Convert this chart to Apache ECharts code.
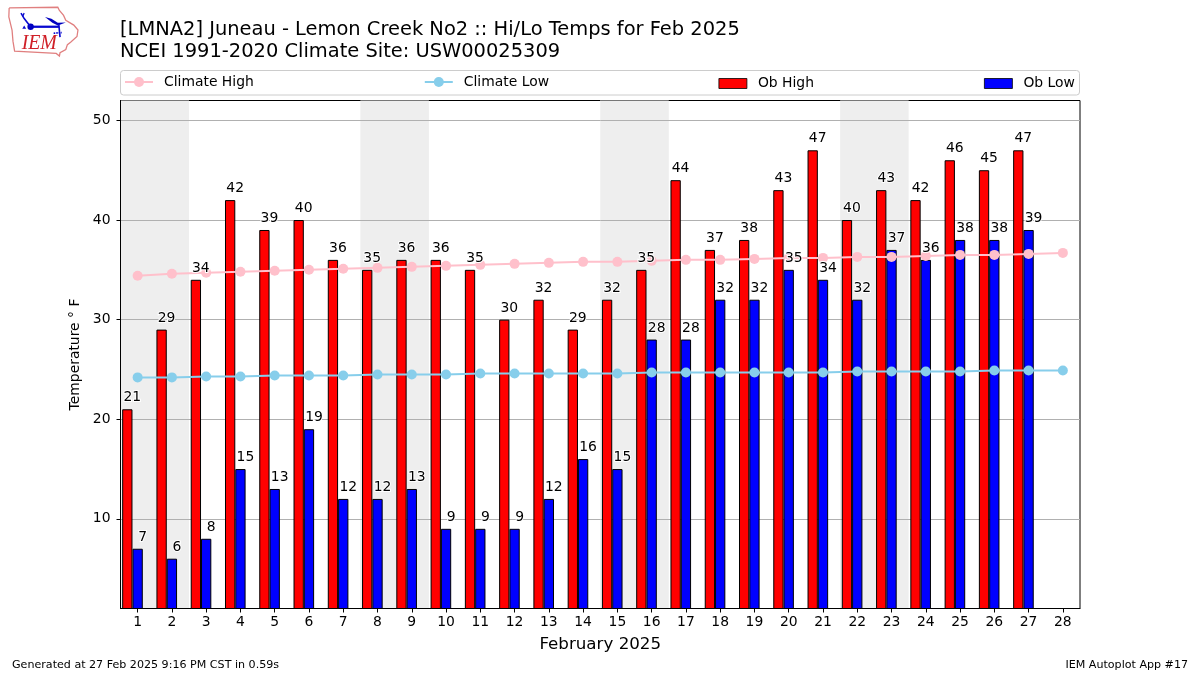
<!DOCTYPE html>
<html><head><meta charset="utf-8">
<style>html,body{margin:0;padding:0;background:#fff}#c{width:1200px;height:675px}</style>
<script src="https://cdn.jsdelivr.net/npm/echarts@6/dist/echarts.min.js"></script>
</head><body><div id="c"></div>
<script>
const days = [1,2,3,4,5,6,7,8,9,10,11,12,13,14,15,16,17,18,19,20,21,22,23,24,25,26,27,28];
const obHigh = [21,29,34,42,39,40,36,35,36,36,35,30,32,29,32,35,44,37,38,43,47,40,43,42,46,45,47,null];
const obLow = [7,6,8,15,13,19,12,12,13,9,9,9,12,16,15,28,28,32,32,35,34,32,37,36,38,38,39,null];
const climateHigh = [34.4,34.6,34.7,34.8,34.9,35.0,35.1,35.2,35.3,35.4,35.5,35.6,35.7,35.8,35.8,35.9,36.0,36.0,36.1,36.2,36.2,36.3,36.3,36.4,36.5,36.5,36.6,36.7];
const climateLow = [24.2,24.2,24.3,24.3,24.4,24.4,24.4,24.5,24.5,24.5,24.6,24.6,24.6,24.6,24.6,24.7,24.7,24.7,24.7,24.7,24.7,24.8,24.8,24.8,24.8,24.9,24.9,24.9];
const weekends = [[0.5,2.5],[7.5,9.5],[14.5,16.5],[21.5,23.5]];
const yTicks = [10,20,30,40,50];
const font = 'DejaVu Sans';
function labelSeries(name,values,dx){
  return {name:name,type:'line',data:values,z:6,symbol:'circle',symbolSize:1,showAllSymbol:true,silent:true,
    lineStyle:{width:0,opacity:0},itemStyle:{color:'rgba(0,0,0,0)'},
    label:{show:true,position:'top',distance:4,offset:[dx,0],color:'#000',fontFamily:font,fontSize:13.9,
      textBorderColor:'#fff',textBorderWidth:2}};
}
const legendBase = {padding:0,itemWidth:28,itemGap:170,top:75,
  textStyle:{fontFamily:font,fontSize:13.9,color:'#000',padding:[0,0,0,6],lineHeight:14}};
const chart = echarts.init(document.getElementById('c'),null,{renderer:'canvas'});
chart.setOption({
  animation:false,
  backgroundColor:'#fff',
  textStyle:{fontFamily:font},
  title:[
    {text:'[LMNA2] Juneau - Lemon Creek No2 :: Hi/Lo Temps for Feb 2025\nNCEI 1991-2020 Climate Site: USW00025309',
     left:120,top:19,padding:0,textStyle:{fontFamily:font,fontSize:19.45,fontWeight:'normal',color:'#000',lineHeight:22}},
    {text:'Generated at 27 Feb 2025 9:16 PM CST in 0.59s',left:12,top:660,padding:0,textStyle:{fontFamily:font,fontSize:11.1,fontWeight:'normal',color:'#000'}},
    {text:'IEM Autoplot App #17',right:12,top:660,padding:0,textStyle:{fontFamily:font,fontSize:11.1,fontWeight:'normal',color:'#000'}}
  ],
  legend:[
    Object.assign({},legendBase,{left:124,itemHeight:12.5,data:['Climate High','Climate Low']}),
    Object.assign({},legendBase,{left:718.5,itemHeight:10,top:76.5,data:[{name:'Ob High',icon:'rect',itemStyle:{borderWidth:0.8}},{name:'Ob Low',icon:'rect',itemStyle:{borderWidth:0.8}}]})
  ],
  grid:{left:120.5,right:120,top:100.5,bottom:66.5,show:true,borderColor:'#000',borderWidth:1,backgroundColor:'transparent'},
  xAxis:[
    {type:'category',data:days,boundaryGap:true,
     name:'February 2025',nameLocation:'middle',nameGap:28,nameTextStyle:{fontFamily:font,fontSize:16.7,color:'#000'},
     axisLine:{show:true,lineStyle:{color:'#000',width:1}},
     axisTick:{show:true,alignWithLabel:true,length:4,lineStyle:{color:'#000',width:1}},
     axisLabel:{color:'#000',fontFamily:font,fontSize:13.9,margin:7,interval:0},splitLine:{show:false}},
    {type:'value',min:0.5,max:28.5,show:false,position:'top',splitLine:{show:false}}
  ],
  yAxis:[{type:'value',min:1,max:52,
     name:'Temperature ° F',nameLocation:'middle',nameGap:37,nameTextStyle:{fontFamily:font,fontSize:13.9,color:'#000'},
     axisLine:{show:true,lineStyle:{color:'#000',width:1}},
     axisTick:{show:true,length:4,customValues:yTicks,lineStyle:{color:'#000',width:1}},
     axisLabel:{color:'#000',fontFamily:font,fontSize:13.9,margin:10,customValues:yTicks},
     splitLine:{show:true,lineStyle:{color:'#b0b0b0',width:1}},z:3}],
  series:[
    {name:'shade',type:'line',xAxisIndex:1,yAxisIndex:0,data:[],silent:true,z:0,
     markArea:{silent:true,itemStyle:{color:'#eeeeee'},z:0,
       data:weekends.map(w=>[{xAxis:w[0],yAxis:1},{xAxis:w[1],yAxis:52}])}},
    {name:'Ob High',type:'bar',data:obHigh,barWidth:10.3,barGap:0,z:3,
     itemStyle:{color:'#ff0000',borderColor:'#000',borderWidth:1}},
    {name:'Ob Low',type:'bar',data:obLow,barWidth:10.3,z:3,
     itemStyle:{color:'#0000ff',borderColor:'#000',borderWidth:1}},
    {name:'spacer',type:'bar',data:days.map(()=>null),barWidth:10.3,silent:true},
    {name:'Climate High',type:'line',data:climateHigh,z:4,color:'#ffc0cb',symbol:'circle',symbolSize:10,showAllSymbol:true,
     lineStyle:{color:'#ffc0cb',width:2},itemStyle:{color:'#ffc0cb'}},
    {name:'Climate Low',type:'line',data:climateLow,z:4,color:'#87ceeb',symbol:'circle',symbolSize:10,showAllSymbol:true,
     lineStyle:{color:'#87ceeb',width:2},itemStyle:{color:'#87ceeb'}},
    labelSeries('High labels',obHigh,-5.3),
    labelSeries('Low labels',obLow,5)
  ],
  graphic:[
    {type:'rect',shape:{x:120.5,y:70.5,width:959,height:24.5,r:3},style:{fill:'none',stroke:'#ccc',lineWidth:1},silent:true},
    {type:'group',x:5,y:4,scaleX:0.32,scaleY:0.325,silent:true,children:[
      {type:'polyline',shape:{points:[[13,12],[165,10],[170,20],[183,35],[190,50],[215,65],[228,80],[225,100],[205,118],[195,125],[190,140],[172,150],[170,160],[160,152],[30,145],[25,115],[22,80],[12,40],[13,12]]},style:{fill:'none',stroke:'#e07f7f',lineWidth:4}},
      {type:'polyline',shape:{points:[[80,70],[170,70]]},style:{stroke:'#0808d0',lineWidth:7,fill:'none'}},
      {type:'circle',shape:{cx:80,cy:70,r:10},style:{fill:'#0000c0'}},
      {type:'polyline',shape:{points:[[50,28],[60,45],[80,70]]},style:{stroke:'#0808d0',lineWidth:5,fill:'none'}},
      {type:'polyline',shape:{points:[[60,28],[55,38]]},style:{stroke:'#0808d0',lineWidth:4,fill:'none'}},
      {type:'polygon',shape:{points:[[125,40],[145,45],[165,58],[190,57],[165,66],[148,58]]},style:{fill:'#0000c0'}},
      {type:'polyline',shape:{points:[[168,62],[172,102]]},style:{stroke:'#0808d0',lineWidth:5,fill:'none'}},
      {type:'polyline',shape:{points:[[152,90],[178,88]]},style:{stroke:'#0808d0',lineWidth:5,fill:'none',lineDash:[5,3]}},
      {type:'polygon',shape:{points:[[54,76],[60,66],[66,76]]},style:{fill:'#0808d0'}},
      {type:'text',x:52,y:92,style:{text:'IEM',fontFamily:'Liberation Serif',fontStyle:'italic',fontSize:62,fill:'#d02028'}}
    ]}
  ]
});
</script></body></html>
